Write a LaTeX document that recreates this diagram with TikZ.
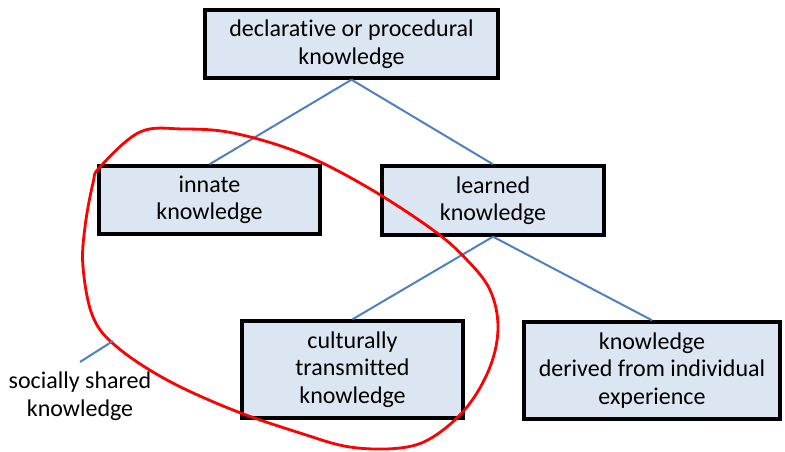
\documentclass[tikz,border=0pt]{standalone}
\usepackage{fontspec}
\setmainfont{Carlito}[Ligatures=NoCommon]
\usetikzlibrary{positioning}
\definecolor{boxfill}{RGB}{220,230,242}
\definecolor{linkblue}{RGB}{79,129,189}

\begin{document}
\begin{tikzpicture}
    [x=1pt,y=-1pt,
     kbox/.style={draw, line width=3.4pt, fill=boxfill, align=center, inner sep=0pt,
       font=\fontsize{24}{27.5}\selectfont},
     link/.style={draw=linkblue, line width=2pt}]
  \useasboundingbox (0,0) rectangle (785,452);
  \node[kbox, minimum width=293, minimum height=68] (decl) at (351.5,44) {declarative or procedural\\knowledge};
  \node[kbox, minimum width=221, minimum height=68] (innate) at (209.5,200) {innate\\knowledge};
  \node[kbox, minimum width=222, minimum height=69] (learned) at (493,200.5) {learned\\knowledge};
  \node[kbox, minimum width=221, minimum height=97] (cult) at (352.5,369.5) {culturally\\transmitted\\knowledge};
  \node[kbox, minimum width=256, minimum height=97] (indiv) at (652,370.5) {knowledge\\derived from individual\\experience};

  \foreach \from/\to in {decl/innate, decl/learned, learned/cult, learned/indiv}
    \draw[link] (\from.south) -- (\to.north);

  % red loop round the shared knowledge
  \draw[red, line width=2.8pt] plot[smooth cycle, tension=0.6] coordinates
    {(100,167) (140,132) (183,129) (233,133) (300,153) (367,187) (433,230)
     (467,260) (490,290) (498,327) (490,367) (467,407) (433,437) (400,448)
     (350,447) (300,433) (233,410) (167,380) (117,347) (93,317) (83,267)
     (85,227) (93,183)};

  \coordinate (loop) at (113,341);
  \node[font=\fontsize{24}{27.5}\selectfont, align=center] (shared) at (80,396) {socially shared\\knowledge};
  \draw[link] (80,362) -- (loop);
\end{tikzpicture}
\end{document}
